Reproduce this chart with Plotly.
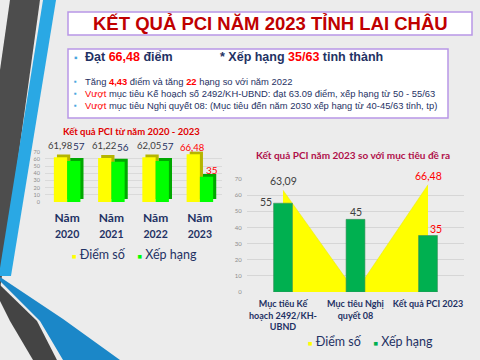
import plotly.graph_objects as go

# ---------------- data ----------------
years = ["2020", "2021", "2022", "2023"]
score = [61.98, 61.22, 62.05, 66.48]
rank = [57, 56, 57, 35]

targets = ["Mục tiêu Kế hoạch 2492/KH-UBND", "Mục tiêu Nghị quyết 08", "Kết quả PCI 2023"]
target_ticks = ["Mục tiêu Kế<br>hoạch 2492/KH-<br>UBND", "Mục tiêu Nghị<br>quyết 08", "Kết quả PCI 2023"]
target_score = [63.09, 0, 66.48]
target_rank = [55, 45, 35]

series_names = ["Điểm số", "Xếp hạng"]
y_ticks = [0, 10, 20, 30, 40, 50, 60, 70]

# ---------------- styles ----------------
W, H = 480, 360
NAVY = "#1f3264"
RED = "#ff0000"
GREY_LBL = "#404040"
YEL = "#ffff00"
YEL_SIDE = "#b5b500"
GRN = "#00ff00"
GRN_SIDE = "#00a800"
GRN2 = "#00b050"
CHART_FONT = "Lato, 'Open Sans', sans-serif"
TXT_FONT = "'Liberation Sans', Arial, sans-serif"

# label vertical offsets (px) for the left chart; highlighted year sits closer
score_dy = [12, 12, 12, 7]
rank_dy = [15, 15, 15, 7]


def px(x):
    return x / W


def py(y):
    return 1 - y / H


def path(pts):
    return "M " + " L ".join(f"{px(x):.4f},{py(y):.4f}" for x, y in pts) + " Z"


def fmt(v):
    return f"{v:.2f}".replace(".", ",") if v % 1 else f"{v:.0f}"


def note(x, y, text, font, xanchor="center"):
    return dict(x=px(x), y=py(y), xref="paper", yref="paper", xanchor=xanchor, yanchor="middle",
                showarrow=False, text=text, font=font)


year_ticks = [f"<b>Năm</b><br><b><span style='font-size:10.5px'>{y}</span></b>" for y in years]
target_tick_text = [f"<b>{t}</b>" for t in target_ticks]

fig = go.Figure()

# ---- left chart: pseudo-3D clustered bars ----
bw, dx, dz = 0.3, 0.07, 4
fig.add_trace(go.Bar(x=years, y=score, base=[dz] * len(score), width=bw, offset=-bw + dx,
                     marker=dict(color=YEL_SIDE, line=dict(width=0)), showlegend=False,
                     hoverinfo="skip", xaxis="x", yaxis="y"))
fig.add_trace(go.Bar(x=years, y=rank, base=[dz] * len(rank), width=bw, offset=dx,
                     marker=dict(color=GRN_SIDE, line=dict(width=0)), showlegend=False,
                     hoverinfo="skip", xaxis="x", yaxis="y"))
fig.add_trace(go.Bar(x=years, y=score, width=bw, offset=-bw, name=series_names[0],
                     marker=dict(color=YEL, line=dict(width=0)), showlegend=False,
                     xaxis="x", yaxis="y"))
fig.add_trace(go.Bar(x=years, y=rank, width=bw, offset=0, name=series_names[1],
                     marker=dict(color=GRN, line=dict(width=0)), showlegend=False,
                     xaxis="x", yaxis="y"))

# ---- right chart: area (score) + bars (rank) ----
fig.add_trace(go.Scatter(x=targets, y=target_score, mode="lines", fill="tozeroy",
                         fillcolor=YEL, line=dict(color="#e8e800", width=0.5),
                         name=series_names[0], showlegend=False, xaxis="x2", yaxis="y2"))
fig.add_trace(go.Bar(x=targets, y=target_rank, width=0.26, name=series_names[1],
                     marker=dict(color=GRN2, line=dict(color="#3d8f5c", width=0.6)),
                     showlegend=False, xaxis="x2", yaxis="y3"))

ann = []
# data labels left (category index positions)
last = len(years) - 1
for i in range(len(years)):
    ann.append(dict(x=i, y=score[i], xref="x", yref="y", text=fmt(score[i]), showarrow=False,
                    xanchor="center", yanchor="middle", xshift=-7, yshift=score_dy[i],
                    font=dict(family=CHART_FONT, size=9.5, color=RED if i == last else GREY_LBL)))
    ann.append(dict(x=i, y=rank[i], xref="x", yref="y", text=fmt(rank[i]), showarrow=False,
                    xanchor="center", yanchor="middle", xshift=12, yshift=rank_dy[i],
                    font=dict(family=CHART_FONT, size=10, color=RED if i == last else NAVY)))
# data labels right
lastt = len(targets) - 1
for i in range(len(targets)):
    if target_score[i] > 0:
        ann.append(dict(x=i, y=target_score[i], xref="x2", yref="y2", text=fmt(target_score[i]),
                        showarrow=False, yshift=9, xanchor="center", yanchor="middle",
                        font=dict(family=CHART_FONT, size=10.5,
                                  color=RED if i == lastt else GREY_LBL)))
    lab = dict(x=i, y=target_rank[i], xref="x2", yref="y3", text=fmt(target_rank[i]),
               showarrow=False, yshift=7, xanchor="center", yanchor="middle",
               font=dict(family=CHART_FONT, size=10.5, color=RED if i == lastt else GREY_LBL))
    if i == 0:
        lab.update(xshift=-17, yshift=1)
    elif i == lastt:
        lab.update(xshift=8)
    ann.append(lab)

# chart titles
ann.append(note(131, 131, "<b>Kết quả PCI từ năm 2020 - 2023</b>",
                dict(family=CHART_FONT, size=9.5, color="#e00000")))
ann.append(note(353, 155, "<b>Kết quả PCI năm 2023 so với mục tiêu đề ra</b>",
                dict(family=CHART_FONT, size=10, color="#b0104a")))


# legends (as text)
def legend_text(c1, c2):
    return (f"<span style='color:{c1};font-size:7.5px'>■</span> {series_names[0]}    "
            f"<span style='color:{c2};font-size:7.5px'>■</span> {series_names[1]}")


ann.append(note(70, 254, legend_text(YEL, GRN), dict(family=CHART_FONT, size=12.5, color=NAVY),
                xanchor="left"))
ann.append(note(306, 341, legend_text(YEL, GRN2), dict(family=CHART_FONT, size=12.5, color=NAVY),
                xanchor="left"))

# slide title & info box
ann.append(note(270, 24, "<b>KẾT QUẢ PCI NĂM 2023 TỈNH LAI CHÂU</b>",
                dict(family=TXT_FONT, size=18.5, color="#c00000")))
bul = "#4aa8e0"
for yy, sz in [(57, 10), (82, 8), (94, 8), (105, 8)]:
    ann.append(note(72, yy, "▪", dict(family=TXT_FONT, size=sz, color=bul), xanchor="left"))
ann.append(note(83, 57, f"<b>Đạt <span style='color:{RED}'>66,48</span> điểm</b>",
                dict(family=TXT_FONT, size=12.5, color=NAVY), xanchor="left"))
ann.append(note(218, 57, f"<b>* Xếp hạng <span style='color:{RED}'>35/63</span> tỉnh thành</b>",
                dict(family=TXT_FONT, size=12.5, color=NAVY), xanchor="left"))
lines = [
    f"Tăng <b><span style='color:{RED}'>4,43</span></b> điểm và tăng <b><span style='color:{RED}'>22</span></b> hạng so với năm 2022",
    f"<span style='color:{RED}'>Vượt</span> mục tiêu Kế hoạch số 2492/KH-UBND: đạt 63.09 điểm, xếp hạng từ 50 - 55/63",
    f"<span style='color:{RED}'>Vượt</span> mục tiêu Nghị quyết 08: (Mục tiêu đến năm 2030 xếp hạng từ 40-45/63 tỉnh, tp)",
]
for yy, t in zip([82, 94, 105], lines):
    ann.append(note(83, yy, t, dict(family=TXT_FONT, size=9.4, color=NAVY), xanchor="left"))

shapes = [
    # decorative stripes
    dict(type="path", path=path([(10, 0), (40, 0), (0, 290), (0, 70)]), xref="paper", yref="paper",
         fillcolor="#4d4d4d", line=dict(width=0), layer="below"),
    dict(type="path", path=path([(43, 0), (56, 0), (11, 276), (0, 276), (0, 268)]), xref="paper",
         yref="paper", fillcolor="#2aa8e4", line=dict(width=0), layer="below"),
    dict(type="path", path=path([(0, 277), (63, 319), (120, 360), (63, 360), (40, 321), (0, 281)]),
         xref="paper", yref="paper", fillcolor="#1b87c8", line=dict(width=0), layer="below"),
    dict(type="path", path=path([(0, 285), (37, 321), (57, 360), (33, 360), (10, 321), (0, 301)]),
         xref="paper", yref="paper", fillcolor="#444444", line=dict(width=0), layer="below"),
    # title box and info box
    dict(type="rect", x0=px(68), x1=px(472), y0=py(12), y1=py(35), xref="paper", yref="paper",
         fillcolor="white", line=dict(color="#b896e6", width=1.5), layer="below"),
    dict(type="rect", x0=px(68), x1=px(448), y0=py(49), y1=py(118), xref="paper", yref="paper",
         fillcolor="white", line=dict(color="#b896e6", width=1.5), layer="below"),
]

fig.update_layout(
    template="none",
    width=W, height=H, autosize=False,
    margin=dict(l=0, r=0, t=0, b=0, pad=0, autoexpand=False),
    paper_bgcolor="#ececec", plot_bgcolor="rgba(0,0,0,0)",
    barmode="overlay", showlegend=False,
    xaxis=dict(domain=[px(45), px(222)], range=[-0.5, 3.5], type="category",
               tickvals=years, ticktext=year_ticks, showgrid=False, showline=False, ticks="",
               zeroline=False, automargin=False, ticklabelstandoff=7,
               tickfont=dict(family=CHART_FONT, size=12, color=NAVY), anchor="y"),
    yaxis=dict(domain=[py(202), py(151.6)], range=[0, 70], tickvals=y_ticks, showgrid=True,
               gridcolor="#dadada", gridwidth=0.6, zeroline=False, showline=False, ticks="",
               automargin=False,
               tickfont=dict(family=CHART_FONT, size=5.5, color="#8c8c8c"), anchor="x",
               ticklabelstandoff=4),
    xaxis2=dict(domain=[px(246.75), px(464.25)], range=[-0.5, 2.5], type="category",
                tickvals=targets, ticktext=target_tick_text, showgrid=False, showline=False,
                ticks="", zeroline=False, automargin=False, ticklabelstandoff=5,
                tickfont=dict(family=CHART_FONT, size=9, color=NAVY), anchor="y2"),
    yaxis2=dict(domain=[py(292), py(179)], range=[0, 70], tickvals=y_ticks, showgrid=True,
                gridcolor="#d6d6d6", gridwidth=0.6, zeroline=False, showline=False, ticks="",
                automargin=False,
                tickfont=dict(family=CHART_FONT, size=6, color="#8c8c8c"), anchor="x2",
                ticklabelstandoff=4),
    yaxis3=dict(domain=[py(292), py(179)], range=[0, 70], overlaying="y2", anchor="x2",
                visible=False, automargin=False),
    annotations=ann, shapes=shapes,
)

fig.write_html("out.html", config={"displayModeBar": False},
               post_script="document.body.style.margin='0';")
